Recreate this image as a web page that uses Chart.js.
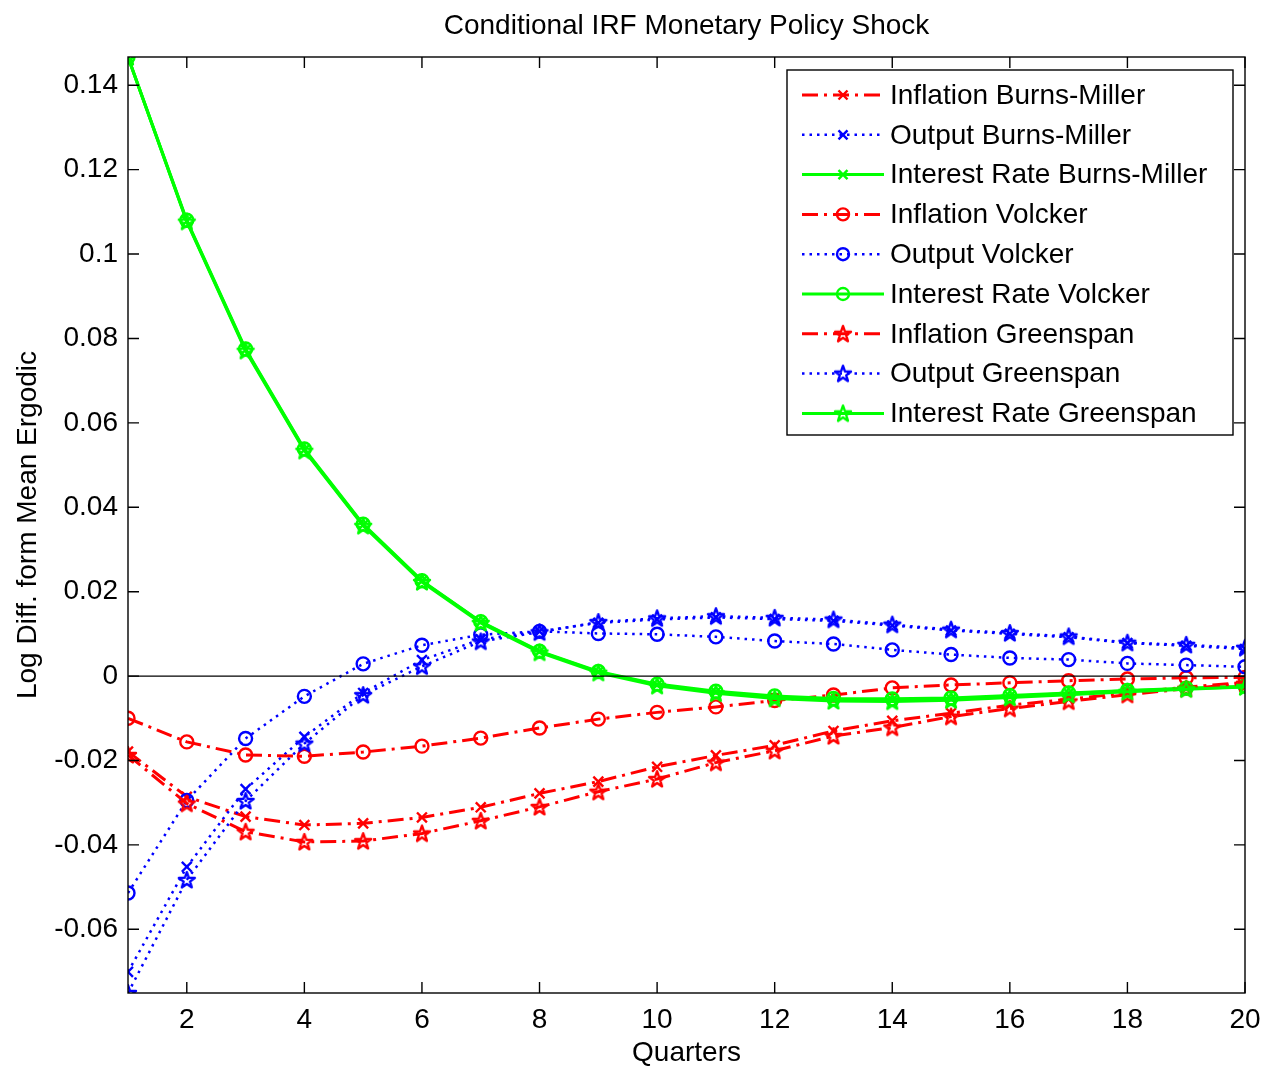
<!DOCTYPE html>
<html>
<head>
<meta charset="utf-8">
<script src="https://cdn.jsdelivr.net/npm/chart.js@4.4.0/dist/chart.umd.min.js"></script>
<style>
html,body{margin:0;padding:0;background:#fff;}
#wrap{width:1262px;height:1067px;position:relative;}
</style>
</head>
<body>
<div id="wrap"><canvas id="c" width="1262" height="1067"></canvas></div>
<script>
// ---------------- data ----------------
const quarters = [1,2,3,4,5,6,7,8,9,10,11,12,13,14,15,16,17,18,19,20];
const xTickValues = [2,4,6,8,10,12,14,16,18,20];
const yTickValues = [-0.06,-0.04,-0.02,0,0.02,0.04,0.06,0.08,0.1,0.12,0.14];

const titleText = "Conditional IRF Monetary Policy Shock";
const xTitle = "Quarters";
const yTitle = "Log Diff. form Mean Ergodic";

const seriesLabels = [
  "Inflation Burns-Miller", "Output Burns-Miller", "Interest Rate Burns-Miller",
  "Inflation Volcker", "Output Volcker", "Interest Rate Volcker",
  "Inflation Greenspan", "Output Greenspan", "Interest Rate Greenspan"
];

const inflationBurnsMiller = [-0.0179,-0.0286,-0.0333,-0.0353,-0.0349,-0.0335,-0.0311,-0.0278,-0.0250,-0.0215,-0.0188,-0.0164,-0.0130,-0.0106,-0.0088,-0.0069,-0.0055,-0.0040,-0.0026,-0.0015];
const outputBurnsMiller    = [-0.0701,-0.0452,-0.0268,-0.0144,-0.0040,0.0038,0.0087,0.0106,0.0126,0.0134,0.0139,0.0135,0.0131,0.0120,0.0108,0.0100,0.0092,0.0078,0.0072,0.0064];
const interestBurnsMiller  = [0.1467,0.1078,0.0773,0.0536,0.0358,0.0225,0.0128,0.0058,0.0010,-0.0021,-0.0038,-0.0050,-0.0056,-0.0057,-0.0054,-0.0048,-0.0041,-0.0035,-0.0030,-0.0025];

const inflationVolcker     = [-0.0100,-0.0156,-0.0187,-0.0190,-0.0180,-0.0166,-0.0147,-0.0123,-0.0102,-0.0086,-0.0073,-0.0058,-0.0045,-0.0028,-0.0021,-0.0016,-0.0011,-0.0007,-0.0004,-0.0003];
const outputVolcker        = [-0.0514,-0.0295,-0.0148,-0.0048,0.0029,0.0073,0.0098,0.0106,0.0101,0.0099,0.0093,0.0083,0.0076,0.0062,0.0051,0.0043,0.0039,0.0030,0.0026,0.0022];
const interestVolcker      = [0.1467,0.1080,0.0775,0.0538,0.0360,0.0226,0.0129,0.0059,0.0011,-0.0019,-0.0036,-0.0047,-0.0053,-0.0054,-0.0052,-0.0046,-0.0040,-0.0034,-0.0029,-0.0024];

const inflationGreenspan   = [-0.0187,-0.0302,-0.0369,-0.0393,-0.0391,-0.0373,-0.0343,-0.0310,-0.0274,-0.0244,-0.0205,-0.0177,-0.0142,-0.0122,-0.0096,-0.0077,-0.0060,-0.0044,-0.0030,-0.0018];
const outputGreenspan      = [-0.0751,-0.0483,-0.0296,-0.0160,-0.0045,0.0023,0.0082,0.0104,0.0128,0.0137,0.0142,0.0138,0.0134,0.0122,0.0110,0.0102,0.0094,0.0079,0.0074,0.0067];
const interestGreenspan    = [0.1467,0.1077,0.0771,0.0534,0.0356,0.0223,0.0126,0.0056,0.0008,-0.0023,-0.0041,-0.0053,-0.0059,-0.0060,-0.0057,-0.0051,-0.0044,-0.0037,-0.0031,-0.0026];

const zeroLine = quarters.map(() => 0);

// ---------------- styles ----------------
const FONT = "'Liberation Sans', Arial, Helvetica, sans-serif";
const RED = '#ff0000', BLUE = '#0000ff', GREEN = '#00ff00';
const DASHDOT = [16,6,3,6];
const DOTTED = [2.5,5];
const SOLID = [];

function makeStar(color){
  const c = document.createElement('canvas');
  c.width = 22; c.height = 22;
  const g = c.getContext('2d');
  const R = 8.4, r = 3.4, cx = 11, cy = 11.6;
  g.beginPath();
  for(let i=0;i<10;i++){
    const rad = (i%2===0)?R:r;
    const a = -Math.PI/2 + i*Math.PI/5;
    const px = cx + rad*Math.cos(a), py = cy + rad*Math.sin(a);
    if(i===0) g.moveTo(px,py); else g.lineTo(px,py);
  }
  g.closePath();
  g.strokeStyle = color; g.lineWidth = 2.4; g.lineJoin = 'round';
  g.stroke();
  return c;
}
const starRed = makeStar(RED), starBlue = makeStar(BLUE), starGreen = makeStar(GREEN);

const seriesData = [inflationBurnsMiller, outputBurnsMiller, interestBurnsMiller,
                    inflationVolcker, outputVolcker, interestVolcker,
                    inflationGreenspan, outputGreenspan, interestGreenspan];
const seriesColor = [RED,BLUE,GREEN, RED,BLUE,GREEN, RED,BLUE,GREEN];
const seriesDash = [DASHDOT,DOTTED,SOLID, DASHDOT,DOTTED,SOLID, DASHDOT,DOTTED,SOLID];
const seriesWidth = [3,2.5,3, 3,2.5,3, 3,2.5,3];
const seriesMarker = ['crossRot','crossRot','crossRot','circle','circle','circle',starRed,starBlue,starGreen];
const seriesRadius = [7,7,7,6.5,6.5,6.5,11,11,11];

const datasets = seriesData.map((d,i) => ({
  label: seriesLabels[i],
  data: quarters.map((q,k) => ({x:q, y:d[k]})),
  borderColor: seriesColor[i],
  backgroundColor: 'rgba(0,0,0,0)',
  borderWidth: seriesWidth[i],
  borderDash: seriesDash[i],
  pointStyle: seriesMarker[i],
  pointRadius: seriesRadius[i],
  pointBorderWidth: 2.4,
  pointBorderColor: seriesColor[i],
  pointBackgroundColor: 'rgba(0,0,0,0)',
  tension: 0,
  fill: false,
  order: 20 - i
}));
datasets.push({
  label: 'zero',
  data: quarters.map((q,k) => ({x:q, y:zeroLine[k]})),
  borderColor: '#000',
  borderWidth: 1.4,
  pointRadius: 0,
  fill: false,
  order: 0
});

function drawLegendMarker(ctx, style, color, x, y){
  ctx.save();
  ctx.setLineDash([]);
  ctx.strokeStyle = color; ctx.lineWidth = 2.4;
  if(style === 'crossRot'){
    const h = 4.5;
    ctx.beginPath();
    ctx.moveTo(x-h,y-h); ctx.lineTo(x+h,y+h);
    ctx.moveTo(x+h,y-h); ctx.lineTo(x-h,y+h);
    ctx.stroke();
  } else if(style === 'circle'){
    ctx.beginPath(); ctx.arc(x,y,6,0,Math.PI*2); ctx.stroke();
  } else {
    ctx.drawImage(style, x - style.width/2, y - style.height/2);
  }
  ctx.restore();
}

const decorPlugin = {
  id: 'decor',
  afterDatasetsDraw(chart){
    const {ctx, chartArea:a, scales:{x,y}} = chart;
    ctx.save();
    ctx.setLineDash([]);
    ctx.strokeStyle = '#000';
    ctx.lineWidth = 1.4;
    ctx.strokeRect(a.left, a.top, a.right - a.left, a.bottom - a.top);
    const L = 11;
    ctx.beginPath();
    xTickValues.forEach(v => {
      const px = x.getPixelForValue(v);
      ctx.moveTo(px, a.bottom); ctx.lineTo(px, a.bottom - L);
      ctx.moveTo(px, a.top); ctx.lineTo(px, a.top + L);
    });
    yTickValues.forEach(v => {
      const py = y.getPixelForValue(v);
      ctx.moveTo(a.left, py); ctx.lineTo(a.left + L, py);
      ctx.moveTo(a.right, py); ctx.lineTo(a.right - L, py);
    });
    ctx.stroke();

    // title
    ctx.fillStyle = '#000';
    ctx.font = '28px ' + FONT;
    ctx.textAlign = 'center';
    ctx.textBaseline = 'middle';
    ctx.fillText(titleText, (a.left + a.right)/2, 26);

    // legend
    const bx = 787, by = 70, bw = 446, bh = 365;
    ctx.fillStyle = '#fff';
    ctx.fillRect(bx, by, bw, bh);
    ctx.strokeStyle = '#000'; ctx.lineWidth = 1.4;
    ctx.strokeRect(bx, by, bw, bh);
    ctx.font = '28px ' + FONT;
    ctx.textAlign = 'left';
    ctx.textBaseline = 'middle';
    for(let i=0;i<seriesLabels.length;i++){
      const ry = 95 + i*39.8;
      ctx.save();
      ctx.strokeStyle = seriesColor[i];
      ctx.lineWidth = seriesWidth[i];
      ctx.setLineDash(seriesDash[i]);
      ctx.beginPath(); ctx.moveTo(802, ry); ctx.lineTo(884, ry); ctx.stroke();
      ctx.restore();
      drawLegendMarker(ctx, seriesMarker[i], seriesColor[i], 843, ry);
      ctx.fillStyle = '#000';
      ctx.fillText(seriesLabels[i], 890, ry + 1);
    }
    ctx.restore();
  }
};

function fmt(v){ return String(Number(v.toFixed(4))); }

new Chart(document.getElementById('c'), {
  type: 'line',
  data: { datasets },
  options: {
    responsive: false,
    animation: false,
    devicePixelRatio: 1,
    layout: { padding: { top: 57, right: 17, left: 0, bottom: 0 } },
    plugins: { legend: { display: false }, tooltip: { enabled: false }, title: { display: false } },
    scales: {
      x: {
        type: 'linear', min: 1, max: 20,
        afterBuildTicks: s => { s.ticks = xTickValues.map(v => ({value: v})); },
        afterFit: s => { s.height = 74; s.paddingLeft = 0; s.paddingRight = 0; },
        grid: { display: false, drawTicks: false },
        border: { display: false },
        ticks: { color: '#000', font: { size: 28, family: FONT }, padding: 10, maxRotation: 0, autoSkip: false, callback: v => fmt(v) },
        title: { display: true, text: xTitle, color: '#000', font: { size: 28, family: FONT, lineHeight: 1 }, padding: { top: 0, bottom: 0 } }
      },
      y: {
        type: 'linear', min: -0.0751, max: 0.1467,
        afterBuildTicks: s => { s.ticks = yTickValues.map(v => ({value: v})); },
        afterFit: s => { s.width = 128; s.paddingTop = 0; s.paddingBottom = 0; },
        grid: { display: false, drawTicks: false },
        border: { display: false },
        ticks: { color: '#000', font: { size: 28, family: FONT }, padding: 10, autoSkip: false, callback: v => fmt(v) },
        title: { display: true, text: yTitle, color: '#000', font: { size: 28, family: FONT, lineHeight: 1 }, padding: { top: 14, bottom: 0 } }
      }
    }
  },
  plugins: [decorPlugin]
});
</script>
</body>
</html>
